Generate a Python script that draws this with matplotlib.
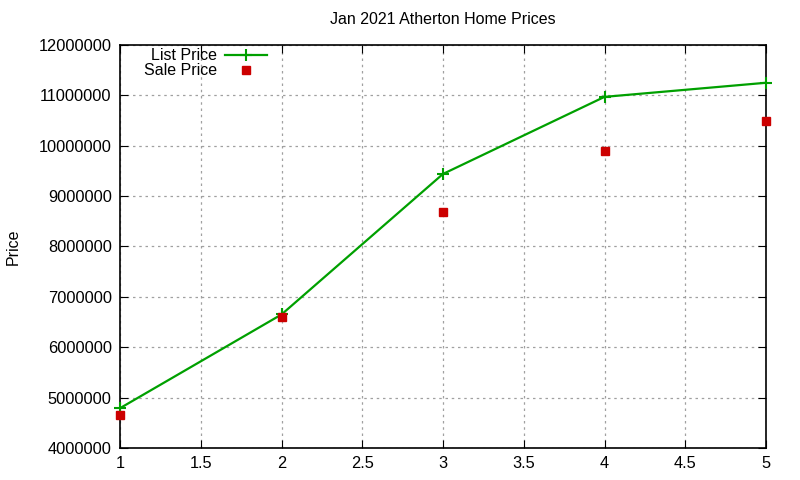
import matplotlib
matplotlib.use('Agg')
import matplotlib.pyplot as plt

plt.rcParams['font.family'] = ['Liberation Sans', 'DejaVu Sans']
plt.rcParams['font.size'] = 10

months = [1, 2, 3, 4, 5]
list_price = [4790000, 6650000, 9440000, 10970000, 11250000]
sale_price = [4650000, 6600000, 8690000, 9890000, 10490000]

fig = plt.figure(figsize=(8, 4.8), dpi=100)
ax = fig.add_axes([0.15, 0.0667, 0.8075, 0.8396])

ax.plot(months, list_price, color='#00a000', lw=1.6, marker='+', ms=8, mew=1.5,
        label='List Price', clip_on=False, zorder=3)
ax.plot(months, sale_price, ls='none', color='#cc0000', marker='s', ms=6,
        label='Sale Price', clip_on=False, zorder=3)

ax.set_xlim(1, 5)
ax.set_ylim(4000000, 12000000)
ax.set_xticks([1, 1.5, 2, 2.5, 3, 3.5, 4, 4.5, 5])
ax.set_xticklabels(['1', '1.5', '2', '2.5', '3', '3.5', '4', '4.5', '5'])
ax.set_yticks(range(4000000, 12000001, 1000000))
ax.set_yticklabels([str(v) for v in range(4000000, 12000001, 1000000)])
ax.tick_params(direction='in', top=True, right=True, length=6, labelsize=11.8, pad=6)
ax.grid(True, color='#a0a0a0', ls=(0, (2, 3)), lw=0.9)
for s in ax.spines.values():
    s.set_linewidth(1.2)

ax.set_title('Jan 2021 Atherton Home Prices', fontsize=11.5, pad=15)
ax.set_ylabel('Price', fontsize=11.5, labelpad=13)

leg = ax.legend(loc='upper left', bbox_to_anchor=(0.02, 1.02), frameon=False, markerfirst=False,
                fontsize=11.5, handlelength=2.6, handletextpad=0.5, labelspacing=0.0, borderpad=0.2)
for t in leg.get_texts():
    t.set_ha('right')

fig.savefig('out.png', dpi=100)
